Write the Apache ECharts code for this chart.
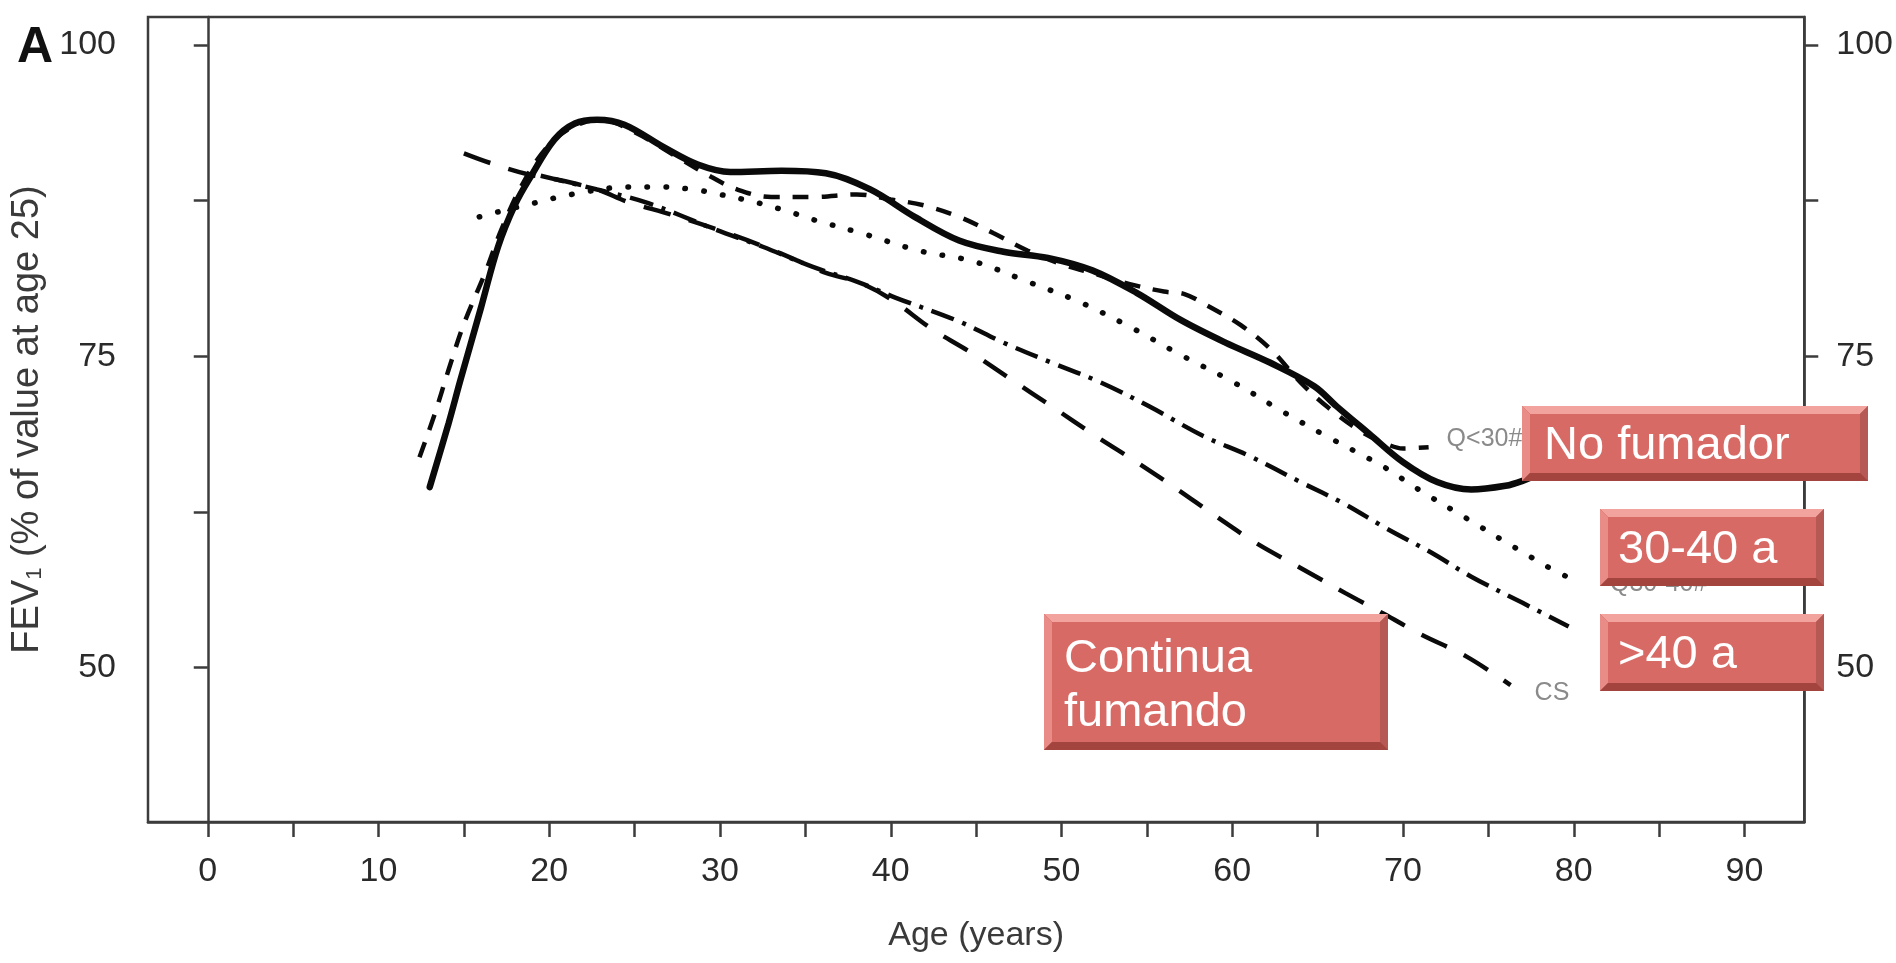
<!DOCTYPE html>
<html>
<head>
<meta charset="utf-8">
<title>FEV1 por edad</title>
<script src="https://cdn.jsdelivr.net/npm/echarts@6/dist/echarts.min.js"></script>
<style>
  html, body { margin: 0; padding: 0; background: #ffffff; }
  #chart { width: 1896px; height: 963px; }
</style>
</head>
<body>
<div id="chart"></div>
<script>
// FEV1 (% of value at age 25) by age, per smoking group: [age, FEV1]
const neverSmoker = [
  [13.0, 64.5], [14.1, 69.6], [14.8, 73.1], [16.0, 78.9], [17.0, 83.8], [18.0, 87.2],
  [18.9, 89.4], [20.3, 92.4], [21.5, 93.7], [22.8, 94.0], [24.4, 93.6], [26.7, 91.8],
  [28.7, 90.4], [30.6, 89.8], [33.6, 89.9], [36.2, 89.7], [38.8, 88.4], [41.4, 86.2],
  [44.0, 84.3], [46.6, 83.4], [49.2, 82.9], [51.8, 81.9], [54.4, 80.1], [57.0, 77.9],
  [59.6, 76.1], [62.2, 74.5], [64.8, 72.6], [66.1, 71.0], [68.0, 68.8], [70.0, 66.5],
  [72.0, 64.9], [74.0, 64.3], [76.0, 64.6], [77.0, 65.0], [79.0, 66.1]
];
const quitBefore30 = [
  [12.4, 66.9], [13.3, 70.4], [14.1, 73.9], [15.0, 77.6], [16.3, 81.9], [17.2, 85.2],
  [18.5, 89.0], [20.0, 92.0], [21.5, 93.5], [23.0, 94.0], [25.0, 93.0], [27.5, 91.0],
  [29.5, 89.4], [31.0, 88.4], [33.0, 87.8], [35.5, 87.8], [38.0, 88.0], [40.0, 87.6],
  [42.0, 87.1], [44.0, 86.2], [46.0, 84.9], [48.0, 83.5], [50.0, 82.4], [52.0, 81.6],
  [54.0, 80.8], [56.0, 80.2], [57.2, 80.0], [58.5, 79.1], [60.5, 77.5], [62.3, 75.5],
  [64.0, 72.9], [65.6, 70.9], [67.5, 69.0], [68.8, 68.1], [70.0, 67.6], [71.5, 67.7]
];
const quit30to40 = [
  [15.9, 86.2], [17.0, 86.6], [19.1, 87.3], [21.3, 88.0], [24.6, 88.6], [26.7, 88.6],
  [28.9, 88.3], [30.0, 88.0], [32.3, 87.3], [34.3, 86.5], [35.4, 86.0], [38.5, 84.8],
  [41.6, 83.5], [44.9, 82.6], [48.0, 81.0], [51.0, 79.4], [54.1, 77.3], [57.0, 75.1],
  [60.1, 72.9], [62.9, 70.6], [65.5, 68.6], [68.9, 66.1], [70.8, 64.4], [73.7, 62.0],
  [76.6, 59.6], [78.6, 58.0], [79.6, 57.3]
];
const quitAfter40 = [
  [19.5, 89.5], [22.8, 88.4], [25.8, 87.3], [29.7, 85.2], [32.5, 83.8], [35.4, 82.2],
  [38.2, 80.9], [40.3, 79.7], [44.0, 77.8], [46.6, 76.1], [49.4, 74.5], [52.3, 72.9],
  [55.1, 71.0], [58.3, 68.6], [61.0, 67.0], [64.0, 64.9], [66.5, 63.2], [69.0, 61.2],
  [71.7, 59.2], [74.0, 57.3], [77.0, 55.2], [79.7, 53.3]
];
const continuingSmoker = [
  [15.0, 91.3], [16.6, 90.5], [18.8, 89.6], [20.1, 89.3], [22.8, 88.4], [24.6, 87.4],
  [27.1, 86.4], [29.8, 85.2], [32.6, 83.8], [34.5, 82.7], [36.2, 81.7], [38.2, 80.9],
  [40.0, 79.6], [42.4, 77.2], [44.7, 75.3], [47.1, 73.1], [49.4, 71.0], [52.0, 68.6],
  [54.4, 66.5], [56.7, 64.4], [59.0, 62.2], [61.4, 60.0], [64.0, 58.0], [66.6, 56.0],
  [68.9, 54.3], [71.0, 52.7], [73.7, 50.9], [76.3, 48.6]
];

// axis ticks and labels
const ageTicks = [0, 5, 10, 15, 20, 25, 30, 35, 40, 45, 50, 55, 60, 65, 70, 75, 80, 85, 90];
const ageLabels = [0, 10, 20, 30, 40, 50, 60, 70, 80, 90];
const fevTicks = [50, 62.5, 75, 87.5, 100];
const fevLabels = [50, 75, 100];

// curve-end tags and callout boxes
const curveTags = { q30: 'Q<30#', q3040: 'Q30-40#', cs: 'CS' };
const calloutTexts = ['No fumador', '30-40 a', '>40 a', 'Continua', 'fumando'];

const FONT = '"Liberation Sans", Arial, Helvetica, sans-serif';
const AXIS_COLOR = '#3c3c3c';
const INK = '#0a0a0a';
const TOP_Z = 100;

const chart = echarts.init(document.getElementById('chart'), null, { renderer: 'canvas' });

function yAxisDef(side) {
  return {
    type: 'value',
    position: side,
    min: 37.6,
    max: 102.25,
    axisLine: { show: true, lineStyle: { color: AXIS_COLOR, width: 2.5 } },
    axisTick: {
      show: true, inside: false, length: 14, customValues: fevTicks,
      lineStyle: { color: AXIS_COLOR, width: 2.5 }
    },
    axisLabel: {
      show: true, customValues: fevLabels, margin: 32,
      fontFamily: FONT, fontSize: 34, color: '#2a2a2a'
    },
    splitLine: { show: false },
    name: side === 'left' ? 'FEV{sub|1} (% of value at age 25)' : '',
    nameLocation: 'middle',
    nameGap: 101,
    nameTextStyle: {
      fontFamily: FONT, fontSize: 38, color: '#3a3a3a',
      rich: { sub: { fontFamily: FONT, fontSize: 22, color: '#3a3a3a', padding: [14, 0, 0, 0] } }
    }
  };
}

function lineSeries(name, data, width, dash, cap, extra) {
  return Object.assign({
    name: name,
    type: 'line',
    data: data,
    smooth: 0.35,
    symbol: 'none',
    silent: true,
    lineStyle: { color: INK, width: width, type: dash, cap: cap || 'butt' },
    z: 3
  }, extra || {});
}

function tag(text, offset) {
  return {
    show: true,
    formatter: text,
    offset: offset,
    fontFamily: FONT,
    fontSize: 25,
    color: '#8a8a8a'
  };
}

// bevelled callout box with white text, drawn above the curves
function bevelBox(x, y, w, h, lines) {
  const b = 8;
  const children = [
    { type: 'rect', shape: { x: x, y: y, width: w, height: h }, style: { fill: '#b4504c' } },
    { type: 'polygon', shape: { points: [[x, y], [x + w, y], [x + w - b, y + b], [x + b, y + b]] }, style: { fill: '#f2a39e' } },
    { type: 'polygon', shape: { points: [[x, y], [x + b, y + b], [x + b, y + h - b], [x, y + h]] }, style: { fill: '#e98c87' } },
    { type: 'polygon', shape: { points: [[x + w, y], [x + w, y + h], [x + w - b, y + h - b], [x + w - b, y + b]] }, style: { fill: '#b65853' } },
    { type: 'polygon', shape: { points: [[x, y + h], [x + b, y + h - b], [x + w - b, y + h - b], [x + w, y + h]] }, style: { fill: '#a4443f' } },
    { type: 'rect', shape: { x: x + b, y: y + b, width: w - 2 * b, height: h - 2 * b }, style: { fill: '#d86a66' } }
  ];
  lines.forEach(function (ln) {
    children.push({
      type: 'text',
      style: {
        x: ln.x, y: ln.y, text: ln.text, fill: '#ffffff',
        font: '47px ' + FONT, align: 'left', verticalAlign: 'middle'
      }
    });
  });
  children.forEach(function (c, i) { c.z = TOP_Z; c.z2 = i; c.silent = true; });
  return { type: 'group', z: TOP_Z, silent: true, children: children };
}

const option = {
  backgroundColor: '#ffffff',
  animation: false,
  grid: {
    left: 148, top: 17, right: 84, bottom: 141,
    show: true, borderColor: AXIS_COLOR, borderWidth: 2.5, backgroundColor: 'transparent'
  },
  xAxis: {
    type: 'value',
    min: -3.5,
    max: 93.5,
    axisLine: { show: true, lineStyle: { color: AXIS_COLOR, width: 2.5 } },
    axisTick: {
      show: true, length: 15, customValues: ageTicks,
      lineStyle: { color: AXIS_COLOR, width: 2.5 }
    },
    axisLabel: {
      show: true, customValues: ageLabels, margin: 33,
      fontFamily: FONT, fontSize: 34, color: '#2a2a2a'
    },
    splitLine: { show: false },
    name: 'Age (years)',
    nameLocation: 'middle',
    nameGap: 97,
    nameTextStyle: { fontFamily: FONT, fontSize: 34, color: '#3a3a3a' }
  },
  yAxis: [yAxisDef('left'), yAxisDef('right')],
  series: [
    lineSeries('NS', neverSmoker, 6.5, 'solid', 'round'),
    lineSeries('Q<30', quitBefore30, 4.5, [16, 13], 'butt', { endLabel: tag(curveTags.q30, [10, -8]) }),
    lineSeries('Q30-40', quit30to40, 5.5, [0.5, 18.5], 'round', { endLabel: tag(curveTags.q3040, [35, 7]) }),
    lineSeries('Q>40', quitAfter40, 4.5, [24, 9, 4, 9]),
    lineSeries('CS', continuingSmoker, 4.5, [28, 19], 'butt', { endLabel: tag(curveTags.cs, [16, 8]) })
  ],
  graphic: [
    {
      type: 'text', z: TOP_Z, silent: true,
      style: { x: 17, y: 48, text: 'A', fill: '#111111', font: 'bold 50px ' + FONT, align: 'left', verticalAlign: 'middle' }
    },
    bevelBox(1522, 406, 346, 75, [{ x: 1544, y: 446, text: calloutTexts[0] }]),
    bevelBox(1600, 509, 224, 77, [{ x: 1618, y: 550, text: calloutTexts[1] }]),
    bevelBox(1600, 614, 224, 77, [{ x: 1618, y: 655, text: calloutTexts[2] }]),
    bevelBox(1044, 614, 344, 136, [
      { x: 1064, y: 659, text: calloutTexts[3] },
      { x: 1064, y: 713, text: calloutTexts[4] }
    ])
  ]
};

chart.setOption(option);
</script>
</body>
</html>
